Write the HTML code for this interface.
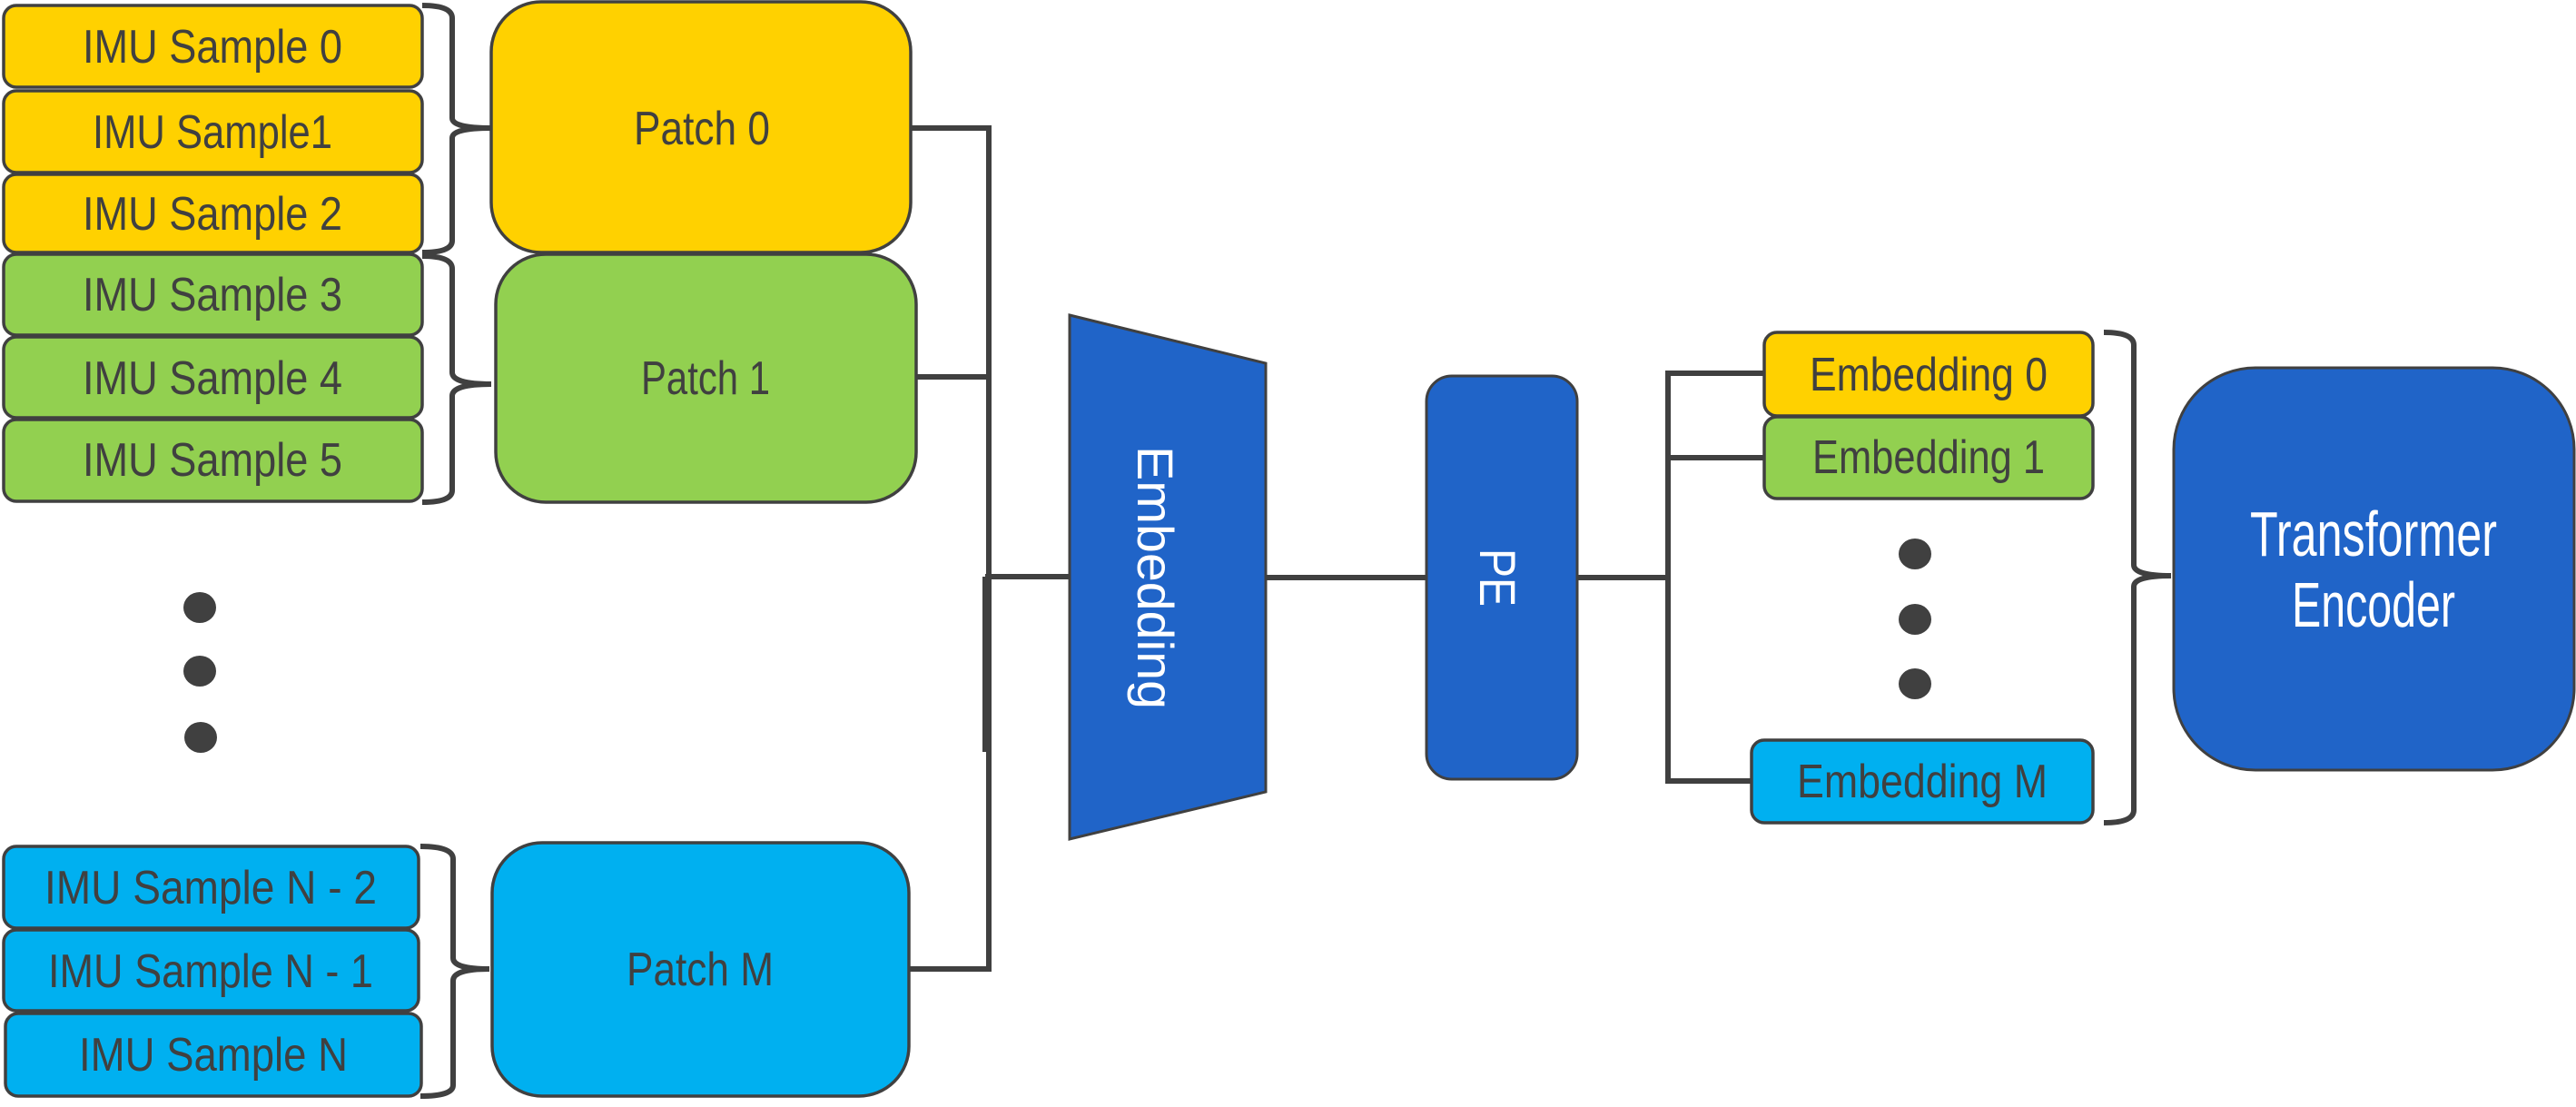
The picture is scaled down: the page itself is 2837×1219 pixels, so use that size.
<!DOCTYPE html>
<html><head><meta charset="utf-8"><style>
html,body{margin:0;padding:0;background:#fff;}
svg{display:block;}
text{font-family:"Liberation Sans",sans-serif;}
</style></head><body>
<svg width="2837" height="1219" viewBox="0 0 2837 1219">
<g stroke="#404040" stroke-width="6" fill="none">
  <path d="M1003 141 H1089 V1067 H1001"/>
  <path d="M1009 415 H1089"/>
  <path d="M1085 635 H1178"/>
  <path d="M1085 635 V828"/>
  <path d="M1394 636 H1571"/>
  <path d="M1737 636 H1837"/>
  <path d="M1943 411 H1837 V860 H1929 M1837 504 H1943"/>
  <path d="M465 6 Q498 6 498 20 V130 Q498 141 541 141 Q498 141 498 152 V265 Q498 278 465 278"/>
  <path d="M465 282 Q498 282 498 296 V410 Q498 423 541 423 Q498 423 498 436 V540 Q498 553 465 553"/>
  <path d="M463 932 Q499 932 499 946 V1055 Q499 1067 539 1067 Q499 1067 499 1080 V1195 Q499 1207 463 1207"/>
  <path d="M2317 366 Q2350 366 2350 380 V622 Q2350 634 2391 634 Q2350 634 2350 646 V892 Q2350 906 2317 906"/>
</g>
<g stroke="#404040" stroke-width="3.5" font-size="52" fill="#404040">
  <g><rect x="4" y="6" width="461" height="90" rx="14" fill="#FFD100"/><text x="234" y="69" text-anchor="middle" stroke="none" textLength="286" lengthAdjust="spacingAndGlyphs">IMU Sample 0</text></g>
  <g><rect x="4" y="100" width="461" height="90" rx="14" fill="#FFD100"/><text x="234" y="163" text-anchor="middle" stroke="none" textLength="264" lengthAdjust="spacingAndGlyphs">IMU Sample1</text></g>
  <g><rect x="4" y="192" width="461" height="86" rx="14" fill="#FFD100"/><text x="234" y="253" text-anchor="middle" stroke="none" textLength="286" lengthAdjust="spacingAndGlyphs">IMU Sample 2</text></g>
  <g><rect x="4" y="280" width="461" height="89" rx="14" fill="#92D050"/><text x="234" y="342" text-anchor="middle" stroke="none" textLength="286" lengthAdjust="spacingAndGlyphs">IMU Sample 3</text></g>
  <g><rect x="4" y="371" width="461" height="89" rx="14" fill="#92D050"/><text x="234" y="434" text-anchor="middle" stroke="none" textLength="286" lengthAdjust="spacingAndGlyphs">IMU Sample 4</text></g>
  <g><rect x="4" y="462" width="461" height="90" rx="14" fill="#92D050"/><text x="234" y="524" text-anchor="middle" stroke="none" textLength="286" lengthAdjust="spacingAndGlyphs">IMU Sample 5</text></g>
  <g><rect x="4" y="932" width="457" height="90" rx="14" fill="#00B0F0"/><text x="232" y="995" text-anchor="middle" stroke="none" textLength="366" lengthAdjust="spacingAndGlyphs">IMU Sample N - 2</text></g>
  <g><rect x="4" y="1024" width="457" height="89" rx="14" fill="#00B0F0"/><text x="232" y="1087" text-anchor="middle" stroke="none" textLength="358" lengthAdjust="spacingAndGlyphs">IMU Sample N - 1</text></g>
  <g><rect x="6" y="1116" width="458" height="91" rx="14" fill="#00B0F0"/><text x="235" y="1179" text-anchor="middle" stroke="none" textLength="296" lengthAdjust="spacingAndGlyphs">IMU Sample N</text></g>

  <g><rect x="541" y="2" width="462" height="276" rx="55" fill="#FFD100"/><text x="773" y="159" text-anchor="middle" stroke="none" textLength="150" lengthAdjust="spacingAndGlyphs">Patch 0</text></g>
  <g><rect x="546" y="280" width="463" height="273" rx="55" fill="#92D050"/><text x="777" y="434" text-anchor="middle" stroke="none" textLength="142" lengthAdjust="spacingAndGlyphs">Patch 1</text></g>
  <g><rect x="542" y="928" width="459" height="279" rx="55" fill="#00B0F0"/><text x="771" y="1085" text-anchor="middle" stroke="none" textLength="162" lengthAdjust="spacingAndGlyphs">Patch M</text></g>

  <g><rect x="1943" y="366" width="362" height="92" rx="14" fill="#FFD100"/><text x="2124" y="430" text-anchor="middle" stroke="none" textLength="262" lengthAdjust="spacingAndGlyphs">Embedding 0</text></g>
  <g><rect x="1943" y="459" width="362" height="90" rx="14" fill="#92D050"/><text x="2124" y="521" text-anchor="middle" stroke="none" textLength="256" lengthAdjust="spacingAndGlyphs">Embedding 1</text></g>
  <g><rect x="1929" y="815" width="376" height="91" rx="14" fill="#00B0F0"/><text x="2117" y="878" text-anchor="middle" stroke="none" textLength="276" lengthAdjust="spacingAndGlyphs">Embedding M</text></g>
</g>
<g fill="#404040">
  <ellipse cx="220" cy="669" rx="18" ry="17"/>
  <ellipse cx="220" cy="739" rx="18" ry="17"/>
  <ellipse cx="221" cy="812" rx="18" ry="17"/>
  <ellipse cx="2109" cy="610" rx="18" ry="17"/>
  <ellipse cx="2109" cy="682" rx="18" ry="17"/>
  <ellipse cx="2109" cy="753" rx="18" ry="17"/>
</g>
<g>
  <polygon points="1178,347 1394,400 1394,872 1178,924" fill="#2064C8" stroke="#404040" stroke-width="3"/>
  <text transform="translate(1272,636) rotate(90)" text-anchor="middle" y="19" fill="#fff" font-size="56" textLength="290" lengthAdjust="spacingAndGlyphs">Embedding</text>
</g>
<g>
  <rect x="1571" y="414" width="166" height="444" rx="28" fill="#2064C8" stroke="#404040" stroke-width="3"/>
  <text transform="translate(1649,636) rotate(90)" text-anchor="middle" y="19" fill="#fff" font-size="56" textLength="64" lengthAdjust="spacingAndGlyphs">PE</text>
</g>
<g>
  <rect x="2394" y="405" width="441" height="443" rx="90" fill="#2064C8" stroke="#404040" stroke-width="3"/>
  <text x="2614" y="612" text-anchor="middle" fill="#fff" font-size="70" textLength="272" lengthAdjust="spacingAndGlyphs">Transformer</text>
  <text x="2614" y="690" text-anchor="middle" fill="#fff" font-size="70" textLength="180" lengthAdjust="spacingAndGlyphs">Encoder</text>
</g>
</svg>
</body></html>
